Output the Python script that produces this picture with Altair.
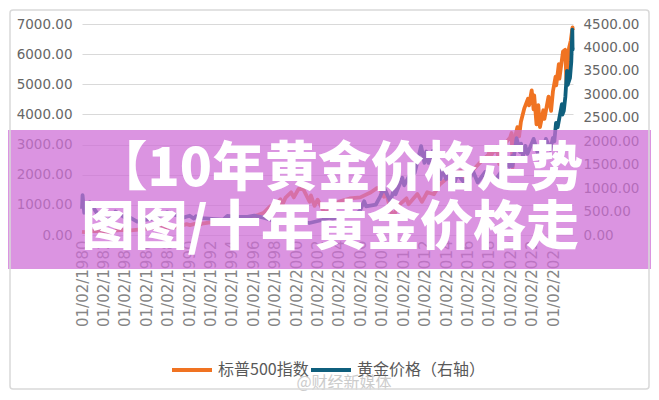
import altair as alt
import pandas as pd

# ---------------- data ----------------
SERIES = ["标普500指数", "黄金价格（右轴）"]
COLORS = ["#f07322", "#0f5f7d"]

SP_DATES = [
    "1980-01-02", "1980-03-27", "1980-11-28", "1981-06-15", "1982-08-12", "1983-01-14",
    "1983-10-10", "1984-07-24", "1985-01-15", "1985-12-31", "1986-06-30", "1986-12-31",
    "1987-08-25", "1987-10-19", "1988-06-15", "1988-12-30", "1989-10-09", "1990-01-30",
    "1990-07-16", "1990-10-11", "1991-03-15", "1991-12-31", "1992-12-31", "1993-12-31",
    "1994-06-30", "1995-01-10", "1995-12-29", "1996-06-28", "1996-12-31", "1997-07-31",
    "1997-10-27", "1998-07-17", "1998-08-31", "1998-12-31", "1999-07-16", "1999-10-15",
    "2000-03-24", "2000-09-01", "2001-04-04", "2001-05-21", "2001-09-21", "2002-01-04",
    "2002-07-23", "2002-10-09", "2003-03-11", "2003-12-31", "2004-12-31", "2005-12-30",
    "2006-12-29", "2007-07-19", "2007-10-09", "2008-03-10", "2008-05-19", "2008-11-20",
    "2009-03-09", "2009-06-12", "2010-04-23", "2010-07-02", "2011-04-29", "2011-10-03",
    "2012-04-02", "2012-11-15", "2013-05-21", "2013-12-31", "2014-09-18", "2015-05-21",
    "2015-08-25", "2016-02-11", "2016-08-15", "2017-03-01", "2017-12-29", "2018-01-26",
    "2018-02-08", "2018-09-20", "2018-12-24", "2019-04-30", "2019-12-31", "2020-02-19",
    "2020-03-23", "2020-06-08", "2020-09-02", "2020-10-30", "2020-12-31", "2021-04-29",
    "2021-08-30", "2021-10-04", "2022-01-03", "2022-03-08", "2022-03-29", "2022-06-16",
    "2022-08-16", "2022-10-12", "2023-02-02", "2023-03-13", "2023-07-31", "2023-10-27",
    "2023-12-29", "2024-03-28", "2024-04-19", "2024-07-16", "2024-08-05", "2024-12-06",
    "2025-02-19", "2025-04-08", "2025-06-30", "2025-08-28", "2025-10-28", "2025-11-05",
]
SP_VALUES = [
    106, 98, 140, 132, 102, 145,
    172, 150, 170, 211, 250, 242,
    336, 225, 273, 278, 359, 330,
    368, 295, 375, 417, 436, 466,
    444, 460, 616, 670, 740, 950,
    876, 1186, 957, 1229, 1418, 1247,
    1527, 1520, 1103, 1312, 965, 1172,
    797, 776, 800, 1111, 1212, 1248,
    1418, 1553, 1565, 1270, 1426, 752,
    676, 940, 1217, 1022, 1363, 1099,
    1419, 1353, 1669, 1848, 2011, 2130,
    1867, 1829, 2190, 2395, 2673, 2872,
    2581, 2930, 2351, 2945, 3240, 3386,
    2237, 3232, 3580, 3270, 3756, 4211,
    4522, 4300, 4796, 4170, 4631, 3667,
    4305, 3577, 4137, 3855, 4589, 4117,
    4770, 5254, 4967, 5667, 5186, 6090,
    6144, 4983, 6205, 6450, 6890, 6796,
]

GOLD_DATES = [
    "1980-01-02", "1980-01-21", "1980-03-18", "1980-09-22", "1981-01-15", "1981-06-15",
    "1982-06-21", "1983-02-15", "1983-12-15", "1984-06-15", "1985-02-25", "1985-12-31",
    "1986-06-30", "1986-10-01", "1987-03-02", "1987-12-14", "1988-06-15", "1988-12-15",
    "1989-06-15", "1990-01-22", "1990-06-15", "1990-08-24", "1991-03-15", "1992-06-15",
    "1993-03-10", "1993-07-30", "1994-06-15", "1995-06-15", "1996-02-02", "1996-12-16",
    "1997-06-16", "1998-01-09", "1998-06-15", "1999-07-20", "1999-10-05", "2000-06-15",
    "2001-04-02", "2002-06-04", "2003-02-05", "2003-06-16", "2004-03-31", "2004-12-02",
    "2005-06-15", "2005-12-12", "2006-05-12", "2006-07-17", "2007-06-15", "2007-11-08",
    "2008-03-17", "2008-10-24", "2009-02-20", "2009-04-15", "2009-12-02", "2010-02-05",
    "2010-12-07", "2011-01-28", "2011-09-05", "2011-12-29", "2012-02-28", "2012-05-16",
    "2012-10-04", "2013-04-15", "2013-06-28", "2013-08-27", "2013-12-31", "2014-03-14",
    "2014-11-05", "2015-01-22", "2015-12-17", "2016-07-06", "2016-12-15", "2017-09-08",
    "2017-12-12", "2018-01-25", "2018-08-16", "2019-02-20", "2019-05-02", "2019-09-04",
    "2019-12-02", "2020-03-09", "2020-03-19", "2020-08-06", "2020-11-30", "2021-01-05",
    "2021-03-08", "2021-06-01", "2021-08-09", "2022-03-08", "2022-09-28", "2023-02-01",
    "2023-05-04", "2023-10-05", "2023-12-27", "2024-02-14", "2024-04-12", "2024-06-07",
    "2024-10-30", "2024-11-14", "2025-01-02", "2025-02-24", "2025-04-21", "2025-05-15",
    "2025-08-01", "2025-09-15", "2025-10-20", "2025-10-28", "2025-11-05",
]
GOLD_VALUES = [
    560, 850, 475, 700, 590, 450,
    297, 500, 380, 375, 285, 327,
    345, 430, 405, 486, 450, 410,
    370, 410, 350, 400, 360, 340,
    327, 405, 385, 387, 415, 370,
    340, 285, 295, 253, 325, 290,
    256, 320, 370, 345, 410, 440,
    430, 510, 720, 610, 650, 820,
    1011, 712, 985, 870, 1220, 1060,
    1420, 1320, 1895, 1540, 1780, 1540,
    1790, 1380, 1192, 1420, 1195, 1385,
    1140, 1300, 1050, 1370, 1125, 1350,
    1240, 1360, 1170, 1340, 1275, 1550,
    1460, 1680, 1470, 2067, 1770, 1950,
    1680, 1900, 1730, 2050, 1620, 1810,
    2050, 1820, 2070, 2000, 2390, 2300,
    2790, 2570, 2650, 2950, 3500, 3200,
    3350, 3700, 4380, 3950, 4000,
]

LEFT_TICKS = [0, 1000, 2000, 3000, 4000, 5000, 6000, 7000]
RIGHT_TICKS = [0, 500, 1000, 1500, 2000, 2500, 3000, 3500, 4000, 4500]
X_TICK_YEARS = [1980, 1982, 1984, 1986, 1988, 1990, 1992, 1994, 1996, 1998, 2000,
                2002, 2004, 2006, 2008, 2010, 2012, 2014, 2016, 2018, 2020, 2022, 2024]

TITLE_LINES = ["【10年黄金价格走势", "图图/十年黄金价格走"]
WATERMARK = "@财经新媒体"

# ---------------- chart ----------------
W, H = 491, 211
AXIS_FONT = "DejaVu Sans"
CJK_FONT = "Noto Sans CJK SC"

sp_df = pd.DataFrame({"date": SP_DATES, "value": SP_VALUES, "series": SERIES[0]})
gold_df = pd.DataFrame({"date": GOLD_DATES, "value": GOLD_VALUES, "series": SERIES[1]})
one = pd.DataFrame({"k": [0]})

x_scale = alt.Scale(
    type="utc",
    domain=[alt.DateTime(year=1980, month=1, date=2, utc=True),
            alt.DateTime(year=2025, month=11, date=12, utc=True)],
)
x_axis = alt.Axis(
    values=[alt.DateTime(year=y, month=1, date=2, utc=True) for y in X_TICK_YEARS],
    format="%m/%d/%Y", labelAngle=-90, labelPadding=5, labelFont=AXIS_FONT,
    labelFontSize=15, labelColor="#858585", domain=False, ticks=False, grid=False,
    labelOverlap=False, labelFlush=False, title=None, zindex=0,
)
color_enc = alt.Color(
    "series:N",
    scale=alt.Scale(domain=SERIES, range=COLORS),
    legend=alt.Legend(orient="none", legendX=88, legendY=324, direction="horizontal",
                      title=None, symbolType="stroke", symbolSize=1600,
                      symbolStrokeWidth=4, labelFont=CJK_FONT, labelFontSize=16,
                      labelColor="#595959", columnPadding=-11, labelOffset=4,
                      padding=0, labelLimit=400),
)

sp_line = alt.Chart(sp_df).mark_line(strokeWidth=3.8, strokeJoin="round").encode(
    x=alt.X("date:T", scale=x_scale, axis=x_axis),
    y=alt.Y("value:Q", scale=alt.Scale(domain=[0, 7000], nice=False),
            axis=alt.Axis(values=LEFT_TICKS, format=".2f", labelFont=AXIS_FONT,
                          labelFontSize=13.5, labelColor="#666666", labelPadding=10,
                          domain=False, ticks=False, grid=True, gridColor="#d9d9d9",
                          gridWidth=1.2, title=None, zindex=0)),
    color=color_enc,
)

gold_line = alt.Chart(gold_df).mark_line(strokeWidth=3.8, strokeJoin="round").encode(
    x=alt.X("date:T", scale=x_scale, axis=x_axis),
    y=alt.Y("value:Q", scale=alt.Scale(domain=[0, 4500], nice=False),
            axis=alt.Axis(orient="right", values=RIGHT_TICKS, format=".2f",
                          labelFont=AXIS_FONT, labelFontSize=13.5, labelColor="#666666",
                          labelPadding=10, domain=False, ticks=False, grid=False,
                          title=None, zindex=0)),
    color=color_enc,
)

band = alt.Chart(one).mark_rect(color="#cf6fd6", opacity=0.74).encode(
    x=alt.value(-74), x2=alt.value(W + 78), y=alt.value(106), y2=alt.value(245)
)

title1 = alt.Chart(one).mark_text(
    font=CJK_FONT, fontSize=53, fontWeight=900, color="white",
    align="right", baseline="middle",
).encode(x=alt.value(501), y=alt.value(146), text=alt.value(TITLE_LINES[0]))

title2 = alt.Chart(one).mark_text(
    font=CJK_FONT, fontSize=53, fontWeight=900, color="white",
    align="right", baseline="middle",
).encode(x=alt.value(497), y=alt.value(205), text=alt.value(TITLE_LINES[1]))

watermark = alt.Chart(one).mark_text(
    font=CJK_FONT, fontSize=16, color="#c4c4c4", opacity=0.85,
    align="center", baseline="middle",
).encode(x=alt.value(262), y=alt.value(359), text=alt.value(WATERMARK))

border = alt.Chart(one).mark_rect(
    fillOpacity=0, stroke="#d9d9d9", strokeWidth=1.5, cornerRadius=3
).encode(x=alt.value(-72), x2=alt.value(567), y=alt.value(-14), y2=alt.value(365))

chart = (
    alt.layer(sp_line, gold_line, band, title1, title2, watermark, border)
    .resolve_scale(y="independent")
    .properties(
        width=W, height=H,
        autosize=alt.AutoSizeParams(type="none"),
        padding={"left": 74, "top": 16, "right": 78, "bottom": 156},
        background="white",
    )
    .configure_view(strokeWidth=0)
)

chart.save("out.html", embed_options={"renderer": "svg", "actions": False})
